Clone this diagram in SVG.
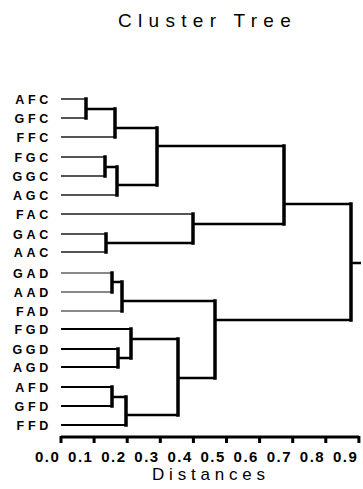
<svg xmlns="http://www.w3.org/2000/svg" width="363" height="489" viewBox="0 0 363 489">
<style>
.lbl{font-family:"Liberation Sans",Arial,sans-serif;font-weight:bold;font-size:12.5px;letter-spacing:3.7px;text-anchor:end;fill:#000}
.ax{font-family:"Liberation Sans",Arial,sans-serif;font-weight:bold;font-size:15px;letter-spacing:1.5px;fill:#000}
.ttl{font-family:"Liberation Sans",Arial,sans-serif;font-size:19px;letter-spacing:6.3px;fill:#000}
.xt{font-family:"Liberation Sans",Arial,sans-serif;font-size:17px;letter-spacing:4.8px;fill:#000}
.leafA{stroke:#555;stroke-width:2;fill:none}
.leafB{stroke:#888;stroke-width:2;fill:none}
.leafC{stroke:#000;stroke-width:2.2;fill:none}
.h{stroke:#000;stroke-width:2.5;fill:none}
.v{stroke:#000;stroke-width:3.5;fill:none;stroke-linecap:square}
</style>
<rect width="363" height="489" fill="#fff"/>
<text class="ttl" x="118" y="27">Cluster Tree</text>
<g id="leaves">
<g id="AFC"><text class="lbl" x="52" y="103.5">AFC</text></g>
<g id="GFC"><text class="lbl" x="52" y="122.5">GFC</text></g>
<g id="FFC"><text class="lbl" x="52" y="141.5">FFC</text></g>
<g id="FGC"><text class="lbl" x="52" y="161.5">FGC</text></g>
<g id="GGC"><text class="lbl" x="52" y="180.5">GGC</text></g>
<g id="AGC"><text class="lbl" x="52" y="199.5">AGC</text></g>
<g id="FAC"><text class="lbl" x="52" y="218.5">FAC</text></g>
<g id="GAC"><text class="lbl" x="52" y="238.5">GAC</text></g>
<g id="AAC"><text class="lbl" x="52" y="256.5">AAC</text></g>
<g id="GAD"><text class="lbl" x="52" y="277.5">GAD</text></g>
<g id="AAD"><text class="lbl" x="52" y="296.5">AAD</text></g>
<g id="FAD"><text class="lbl" x="52" y="315.5">FAD</text></g>
<g id="FGD"><text class="lbl" x="52" y="333.5">FGD</text></g>
<g id="GGD"><text class="lbl" x="52" y="353.5">GGD</text></g>
<g id="AGD"><text class="lbl" x="52" y="371.5">AGD</text></g>
<g id="AFD"><text class="lbl" x="52" y="391.5">AFD</text></g>
<g id="GFD"><text class="lbl" x="52" y="410.5">GFD</text></g>
<g id="FFD"><text class="lbl" x="52" y="429.5">FFD</text></g>
</g>
<g id="connectors">
<path class="leafA" d="M61 99H86M61 118H86M61 137H115M61 157H105M61 176H105M61 195H117M61 214H193M61 234H106M61 252H106"/>
<path class="leafB" d="M61 273H112M61 292H112M61 311H122"/>
<path class="leafC" d="M61 329H131M61 349H118M61 367H118M61 387H112M61 406H112M61 425H126"/>
<path class="h" d="M86 109H115M115 128H157M105 167H117M117 185H157M157 146H284M106 243H193M193 224H284M284 204H351M112 282H122M122 301H215M118 358H131M131 339H178M112 397H126M126 415H178M178 378H215M215 320H351M351 263H361"/>
<path class="v" d="M86 99V118M115 109V137M105 157V176M117 167V195M157 128V185M106 234V252M193 214V243M284 146V224M112 273V292M122 282V311M118 349V367M131 329V358M112 387V406M126 397V425M178 339V415M215 301V378M351 204V320"/>
</g>
<g id="axis">
<path d="M61 437H359" stroke="#000" stroke-width="3" fill="none"/>
<path d="M61 436V443M94.1 436V443M127.2 436V443M160.3 436V443M193.4 436V443M226.5 436V443M259.6 436V443M292.7 436V443M325.8 436V443M358.9 436V443" stroke="#000" stroke-width="3" fill="none"/>
<text class="ax" x="35" y="462">0.0</text>
<text class="ax" x="68.1" y="462">0.1</text>
<text class="ax" x="101.2" y="462">0.2</text>
<text class="ax" x="134.3" y="462">0.3</text>
<text class="ax" x="167.4" y="462">0.4</text>
<text class="ax" x="200.5" y="462">0.5</text>
<text class="ax" x="233.6" y="462">0.6</text>
<text class="ax" x="266.7" y="462">0.7</text>
<text class="ax" x="299.8" y="462">0.8</text>
<text class="ax" x="332.9" y="462">0.9</text>
<text class="xt" x="152" y="480">Distances</text>
</g>
</svg>
